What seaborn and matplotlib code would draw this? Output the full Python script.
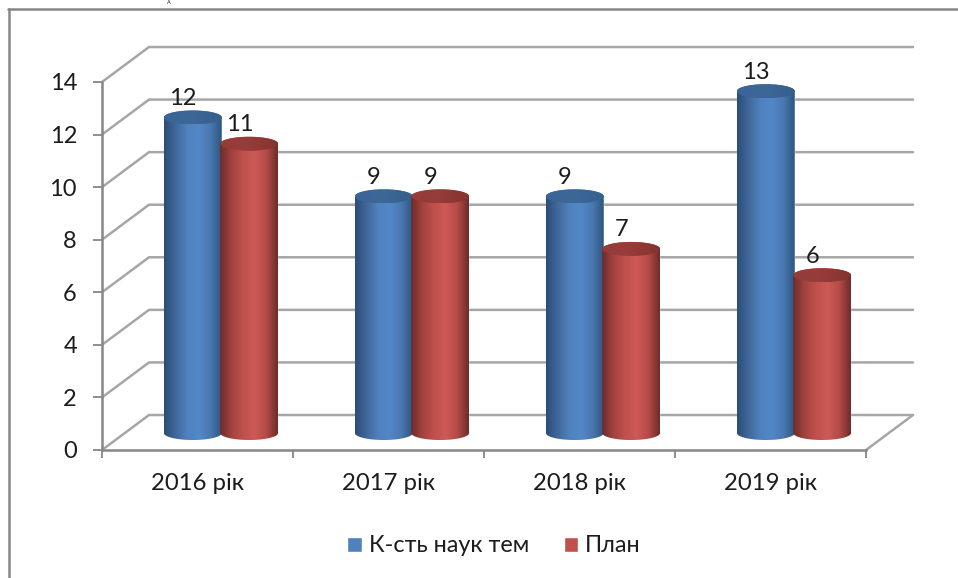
import numpy as np
import pandas as pd
import matplotlib
matplotlib.use("Agg")
import matplotlib.pyplot as plt
import seaborn as sns
from matplotlib.colors import LinearSegmentedColormap
from matplotlib.lines import Line2D
from matplotlib.patches import Polygon

years = ["2016 рік", "2017 рік", "2018 рік", "2019 рік"]
series_names = ["К-сть наук тем", "План"]
topics = [12, 9, 9, 13]
plan = [11, 9, 7, 6]
y_ticks = [0, 2, 4, 6, 8, 10, 12, 14]

W, H = 958, 578
GREY = "#868686"
WALL = "#a6a6a6"
TEXT = "#1c1c1c"

sns.set_theme(style="white")
plt.rcParams["font.family"] = ["Lato", "Noto Sans", "DejaVu Sans"]

df = pd.DataFrame({"year": years, series_names[0]: topics, series_names[1]: plan})
df = df.melt(id_vars="year", var_name="series", value_name="value")

fig = plt.figure(figsize=(W / 100, H / 100), dpi=100, facecolor="white")


def box(left, right, top, bottom):
    return [left / W, 1 - bottom / H, (right - left) / W, (bottom - top) / H]


# outer chart frame, cut off by the picture on the right and bottom
fig.add_artist(Line2D([8.5 / W, 8.5 / W], [0, 1 - 9 / H], color=GREY, lw=1.8))
fig.add_artist(Line2D([8 / W, 1], [1 - 9 / H, 1 - 9 / H], color=GREY, lw=1.8))
# caption letter at the very top edge, shrunk so it fits inside the picture
fig.text(169 / W, 1 - 4.5 / H, "А", ha="center", va="baseline", fontsize=4, color=TEXT)

# front axis
ax = fig.add_axes(box(102, 866, 82, 450), facecolor="none")
ax.set_xlim(-0.5, 3.5)
ax.set_ylim(0, 14)
ax.set_yticks(y_ticks)
ax.set_xticks([-0.5, 0.5, 1.5, 2.5, 3.5])
ax.set_xticklabels([])
ax.set_xticks(range(len(years)), labels=years, minor=True)
ax.tick_params(axis="y", length=6.5, width=1.3, color=GREY, pad=11.5, labelsize=17, labelcolor=TEXT, left=True)
ax.tick_params(axis="x", which="major", length=6, width=1.3, color=GREY, bottom=True)
ax.tick_params(axis="x", which="minor", length=0, pad=16.5, labelsize=17.2, labelcolor=TEXT)
for side in ["top", "right"]:
    ax.spines[side].set_visible(False)
for side in ["left", "bottom"]:
    ax.spines[side].set_color(GREY)
    ax.spines[side].set_linewidth(1.8)

# back wall and floor of the fake 3d box
dx = 47 / 191
dy = 35 / 26.29
for v in y_ticks:
    ax.plot([-0.5, -0.5 + dx, 3.5 + dx], [v, v + dy, v + dy], color=WALL, lw=1.8, clip_on=False, zorder=1)
ax.plot([3.5, 3.5 + dx], [0, dy], color=WALL, lw=1.8, clip_on=False, zorder=1)

# bars sit half way into the box, so they get their own shifted axes
bar_ax = fig.add_axes(box(125.5, 889.5, 64.9, 459.3), facecolor="none")
sns.barplot(
    data=df, x="year", y="value", hue="series", hue_order=series_names, order=years,
    palette=["#4f81bd", "#c0504d"], saturation=1, width=0.59, gap=0, ax=bar_ax,
)
bar_ax.set_xlim(-0.5, 3.5)
bar_ax.set_ylim(-1, 14)
bar_ax.axis("off")

blue_side = LinearSegmentedColormap.from_list("b", ["#2c4d77", "#41689b", "#4f81bd", "#5288c8", "#4a78b0", "#2f5680"])
red_side = LinearSegmentedColormap.from_list("r", ["#6c2c2a", "#a34340", "#c0504d", "#cd5a56", "#b54b48", "#6e2c2a"])
blue_cap = LinearSegmentedColormap.from_list("bc", ["#3a6596", "#3c6797", "#36608c"])
red_cap = LinearSegmentedColormap.from_list("rc", ["#963c39", "#963c39", "#83332f"])
shades = [(blue_side, blue_cap), (red_side, red_cap)]
ramp = np.linspace(0, 1, 128).reshape(1, -1)
cap_h = 7 / 26.29
t_up = np.linspace(0, np.pi, 60)
t_down = np.linspace(np.pi, 2 * np.pi, 60)

for i, (cont, (side, cap)) in enumerate(zip(bar_ax.containers, shades)):
    for patch in cont:
        xc = patch.get_x() + patch.get_width() / 2
        half = patch.get_width() / 2 + 0.004
        top = patch.get_height()
        body = np.vstack([
            np.c_[xc + half * np.cos(t_up), top + cap_h * np.sin(t_up)],
            np.c_[xc + half * np.cos(t_down), cap_h * np.sin(t_down)],
        ])
        lid = np.c_[xc + half * np.cos(np.r_[t_up, t_down]), top + cap_h * np.sin(np.r_[t_up, t_down])]
        im = bar_ax.imshow(ramp, cmap=side, aspect="auto", zorder=3 + i,
                           extent=[xc - half, xc + half, -cap_h, top + cap_h])
        im.set_clip_path(Polygon(body, transform=bar_ax.transData))
        im2 = bar_ax.imshow(ramp, cmap=cap, aspect="auto", zorder=3.5 + i,
                            extent=[xc - half, xc + half, top - cap_h, top + cap_h])
        im2.set_clip_path(Polygon(lid, transform=bar_ax.transData))
        bar_ax.annotate(str(int(top)), (xc, top), xytext=(-7, 13.8), textcoords="offset points",
                        ha="center", va="center", fontsize=17, color=TEXT, zorder=8)
bar_ax.set_xlim(-0.5, 3.5)
bar_ax.set_ylim(-1, 14)

sns.move_legend(
    bar_ax, "center", bbox_to_anchor=(494 / W, 1 - 546 / H), bbox_transform=fig.transFigure,
    ncol=2, frameon=False, title=None, fontsize=16.8, handlelength=0.62, handleheight=0.62,
    handletextpad=0.3, columnspacing=1.48, labelcolor=TEXT,
)

fig.savefig("out.png", dpi=100)
